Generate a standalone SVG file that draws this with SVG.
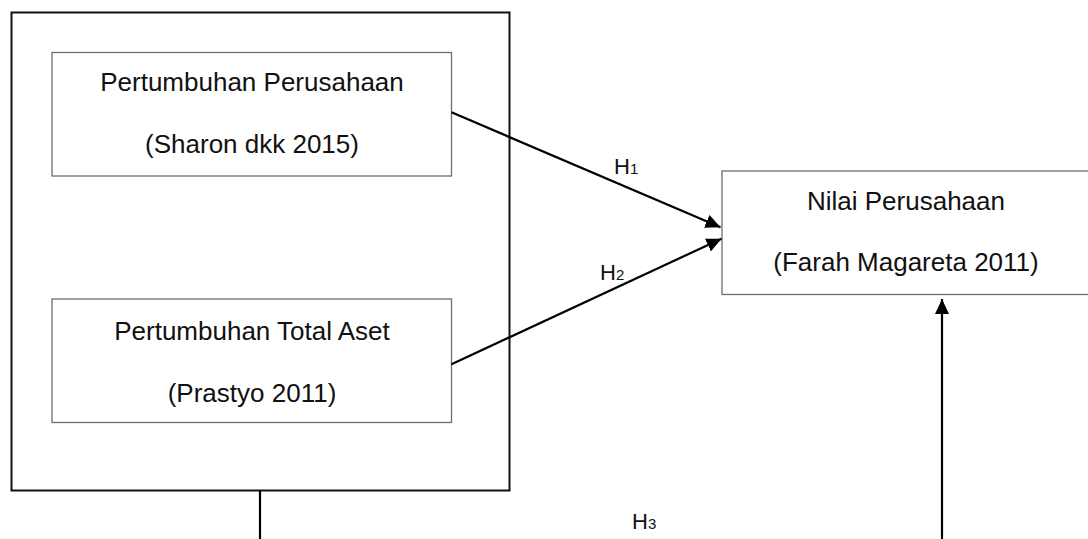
<svg xmlns="http://www.w3.org/2000/svg" width="1088" height="539" viewBox="0 0 1088 539">
  <style>
    .outer { fill: none; stroke: #111; stroke-width: 2; }
    .box { fill: #fff; stroke: #6e6e6e; stroke-width: 1.3; }
    .t { font-family: "Liberation Sans", Arial, sans-serif; font-size: 26px; fill: #111; text-anchor: middle; }
    .h { font-family: "Liberation Sans", Arial, sans-serif; font-size: 22px; fill: #111; }
    .sub { font-size: 15px; }
    .conn { fill: none; stroke: #000; stroke-width: 2.2; }
  </style>
  <defs>
    <marker id="arrow" markerUnits="userSpaceOnUse" markerWidth="16" markerHeight="14" refX="15" refY="7" orient="auto">
      <path d="M0,0 L15,7 L0,14 z" fill="#000"/>
    </marker>
  </defs>

  <g id="group-independent">
    <rect class="outer" x="11.5" y="12.5" width="498" height="478"/>
  </g>

  <g id="node-pertumbuhan-perusahaan">
    <rect class="box" x="52" y="52.5" width="399.5" height="123.5"/>
    <text class="t" x="252" y="91">Pertumbuhan Perusahaan</text>
    <text class="t" x="252" y="153">(Sharon dkk 2015)</text>
  </g>

  <g id="node-pertumbuhan-total-aset">
    <rect class="box" x="52" y="299" width="399.5" height="123.5"/>
    <text class="t" x="252" y="340">Pertumbuhan Total Aset</text>
    <text class="t" x="252" y="402">(Prastyo 2011)</text>
  </g>

  <g id="node-nilai-perusahaan">
    <rect class="box" x="722" y="171" width="368" height="123.5"/>
    <text class="t" x="906" y="210">Nilai Perusahaan</text>
    <text class="t" x="906" y="271">(Farah Magareta 2011)</text>
  </g>

  <g id="connectors">
    <line class="conn" x1="451.5" y1="112.3" x2="720.5" y2="227.3" marker-end="url(#arrow)"/>
    <line class="conn" x1="451.5" y1="364.3" x2="721.5" y2="238.7" marker-end="url(#arrow)"/>
    <line class="conn" x1="260" y1="491" x2="260" y2="545"/>
    <line class="conn" x1="942" y1="545" x2="942" y2="299" marker-end="url(#arrow)"/>
  </g>

  <g id="labels">
    <text class="h" x="614" y="174">H<tspan class="sub">1</tspan></text>
    <text class="h" x="600" y="280">H<tspan class="sub">2</tspan></text>
    <text class="h" x="632" y="529">H<tspan class="sub">3</tspan></text>
  </g>
</svg>
